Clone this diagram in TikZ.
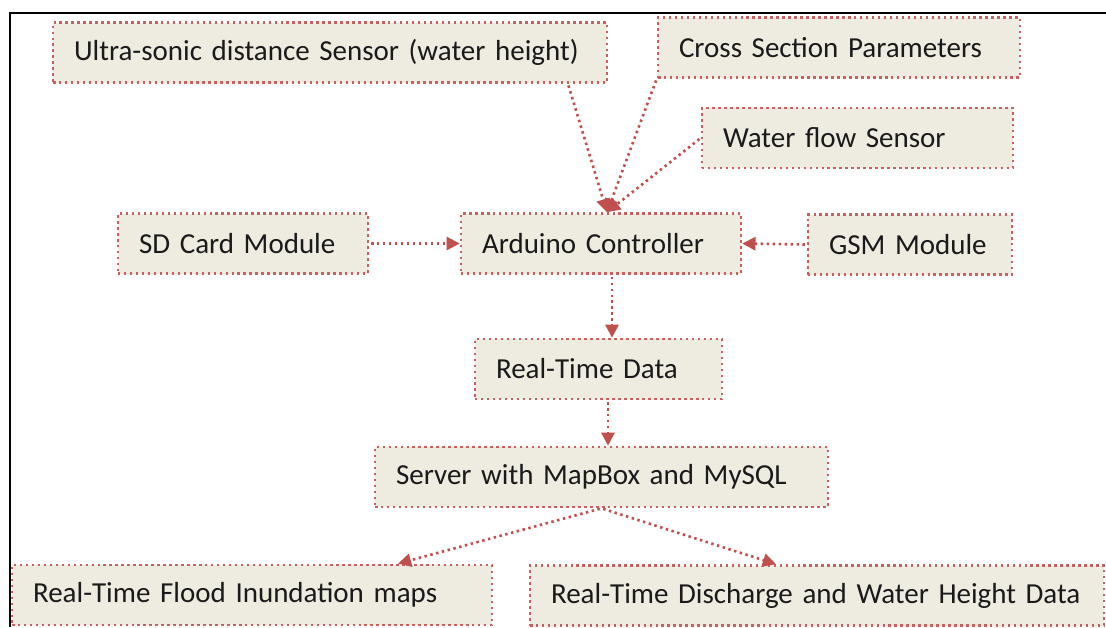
\documentclass[tikz,border=0pt]{standalone}
\usepackage{fontspec}
\setmainfont{Carlito}
\usetikzlibrary{arrows.meta,positioning}
\definecolor{boxfill}{HTML}{EEECE1}
\definecolor{boxline}{HTML}{C0504D}
\definecolor{ink}{HTML}{1A1A1A}

\tikzset{
  dotline/.style={line width=1.5pt,dash pattern=on 1.4pt off 2pt},
  blk/.style={draw=boxline!90,fill=boxfill,dotline,inner xsep=0.42cm,inner ysep=0pt,
    minimum height=1.2cm,align=left,text=ink,font=\fontsize{16.5}{19}\selectfont},
  flow/.style={draw=boxline,dotline,-{Triangle[length=7.5pt,width=7.5pt]},shorten <=1pt}
}

\begin{document}
\begin{tikzpicture}[x=0.02cm,y=-0.02cm]
  \useasboundingbox (0,0) rectangle (1106,627);
  % Frame
  \draw[line width=1.1pt] (10,627) -- (10,13) -- (1106,13);

  % Inputs
  \node[blk,text width=10.24cm] (ultra) at (330,52.5) {Ultra-sonic distance Sensor (water height)};
  \node[blk,text width=6.4cm] (cross) at (839,47.5) {Cross Section Parameters};
  \node[blk,text width=5.38cm] (water) at (857.5,138) {Water flow Sensor};
  \node[blk,text width=4.16cm] (sd) at (243,243.5) {SD Card Module};
  \node[blk,text width=4.76cm] (arduino) at (601,243.5) {Arduino Controller};
  \node[blk,text width=3.24cm] (gsm) at (910,244.5) {GSM Module};

  % Data chain
  \node[blk,text width=4.1cm] (rtd) at (598.5,369) {Real-Time Data};
  \node[blk,text width=8.22cm] (server) at (601.5,477) {Server with MapBox and MySQL};

  % Outputs
  \node[blk,text width=8.76cm] (flood) at (252,595) {Real-Time Flood Inundation maps};
  \node[blk,text width=10.64cm] (discharge) at (817,595.5) {Real-Time Discharge and Water Height Data};

  % Connectors
  \draw[flow] ([xshift=4.76cm]ultra.south) -- ([xshift=0.12cm]arduino.north);
  \draw[flow] (cross.south west) -- ([xshift=0.12cm]arduino.north);
  \draw[flow] (water.west) -- ([xshift=0.12cm]arduino.north);
  \draw[flow] (sd.east) -- (arduino.west);
  \draw[flow] (gsm.west) -- (arduino.east);
  \draw[flow] ([xshift=0.22cm]arduino.south) -- ([xshift=0.22cm]arduino.south |- rtd.north);
  \draw[flow] ([xshift=0.19cm]rtd.south) -- ([xshift=0.19cm]rtd.south |- server.north);
  \draw[flow] (server.south) -- ([xshift=2.92cm]flood.north);
  \draw[flow] (server.south) -- ([xshift=-0.82cm]discharge.north);
\end{tikzpicture}
\end{document}
